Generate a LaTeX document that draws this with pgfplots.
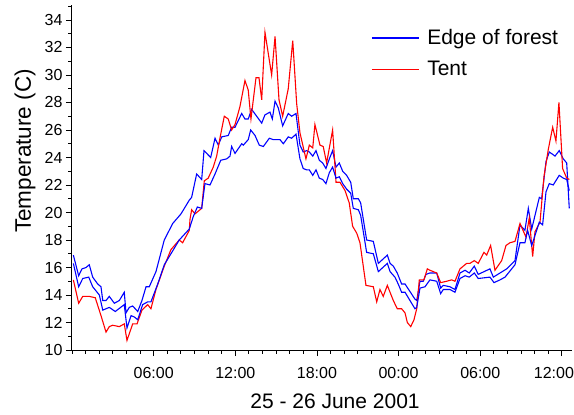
\documentclass[border=0pt]{standalone}
\usepackage{fontspec}
\setmainfont{Liberation Sans}
\usepackage{pgfplots}
\pgfplotsset{compat=1.18}

% hours after midnight, 25 June 2001
\pgfplotstableread{
h T
0.10 16.9
0.49 15.4
0.73 15.9
1.03 16.0
1.27 16.2
1.52 15.3
1.89 14.8
2.13 14.6
2.26 13.6
2.50 13.6
2.74 13.9
3.11 13.4
3.48 13.6
3.84 14.2
3.97 12.7
4.21 13.1
4.46 13.2
4.83 12.8
5.14 13.6
5.44 14.6
5.68 14.6
6.17 15.7
6.78 18.0
7.40 19.2
8.01 19.9
8.62 20.9
8.79 21.1
9.16 22.8
9.53 22.4
9.70 24.5
10.19 24.0
10.51 25.4
10.75 24.9
11.00 25.5
11.48 25.6
11.73 26.2
11.98 26.2
12.47 27.2
12.71 26.8
12.95 26.8
13.20 27.5
13.57 27.0
13.94 26.5
14.18 27.1
14.55 27.3
14.72 26.8
14.92 28.1
15.16 27.6
15.48 26.3
15.89 27.2
16.14 27.0
16.46 27.2
16.75 24.9
16.99 24.4
17.24 24.5
17.44 24.4
17.69 24.1
17.93 24.5
18.17 23.8
18.42 23.6
18.66 23.2
18.91 23.9
19.15 24.5
19.40 23.3
19.64 23.6
19.89 23.0
20.18 22.7
20.48 22.2
20.67 21.0
21.04 21.0
21.21 20.7
21.65 18.0
22.14 17.9
22.51 16.3
23.17 16.9
23.37 16.3
23.61 16.1
23.90 15.6
24.22 14.8
24.47 14.8
25.20 13.7
25.33 13.6
25.57 15.0
25.81 15.0
26.01 15.5
26.30 15.6
26.80 15.6
27.09 14.5
27.28 14.7
27.77 14.6
28.14 14.4
28.51 15.6
28.88 15.8
29.19 15.6
29.56 16.1
29.85 15.5
30.71 15.9
30.96 15.3
31.45 15.6
31.94 15.9
32.55 16.5
32.92 19.1
33.28 18.7
33.53 20.3
33.78 18.8
34.34 21.1
34.51 21.0
34.83 23.7
35.07 24.4
35.36 24.2
35.49 24.1
35.80 24.5
36.10 23.9
36.35 23.6
36.54 20.3
}\edgeA

\pgfplotstableread{
h T
0.10 16.3
0.49 14.6
0.79 15.2
1.23 15.3
1.52 14.6
2.01 14.0
2.26 12.9
2.74 13.1
3.18 12.8
3.84 13.3
4.04 11.6
4.34 12.5
4.58 12.4
4.83 12.2
5.19 13.3
5.56 13.5
5.80 13.5
6.30 14.8
6.78 16.2
7.15 16.8
7.88 18.0
8.62 18.8
8.91 19.7
9.21 20.4
9.53 20.3
9.77 22.1
10.14 22.0
10.51 22.8
10.93 23.8
11.37 23.9
11.61 24.1
11.73 24.8
11.98 24.3
12.47 25.0
12.59 24.9
12.95 25.3
13.13 26.0
13.45 25.6
13.76 24.9
14.06 24.8
14.50 25.4
14.79 25.3
15.28 25.3
15.53 25.0
15.89 25.5
16.14 25.4
16.46 25.7
16.75 23.9
16.99 23.2
17.24 23.1
17.44 23.1
17.69 22.7
17.93 23.1
18.17 22.5
18.42 22.4
18.66 22.1
18.91 22.9
19.15 23.3
19.40 22.5
19.64 22.6
19.89 22.1
20.18 21.7
20.48 21.4
20.67 20.3
21.04 20.2
21.21 19.8
21.65 17.1
22.14 17.0
22.51 15.7
23.17 16.3
23.37 15.7
23.73 15.3
23.97 14.8
24.22 14.2
24.47 14.2
25.20 13.0
25.33 13.1
25.57 14.5
25.94 14.6
26.30 15.1
26.80 15.0
27.09 14.1
27.28 14.4
27.77 14.4
28.14 14.2
28.51 15.2
28.88 15.4
29.19 15.3
29.56 15.6
29.85 15.2
30.71 15.3
31.01 14.9
31.45 15.1
31.82 15.3
32.55 16.2
32.92 17.8
33.28 17.8
33.48 18.7
33.78 17.6
34.34 19.3
34.58 19.1
34.83 21.5
35.07 22.1
35.36 22.0
35.80 22.7
36.10 22.5
36.35 22.4
36.54 21.6
}\edgeB

\pgfplotstableread{
h T
0.10 15.1
0.49 13.4
0.79 13.9
1.27 13.9
1.71 13.8
2.13 12.5
2.50 11.3
2.74 11.7
2.99 11.8
3.48 11.7
3.84 11.9
4.04 10.7
4.46 11.9
4.78 11.9
5.14 12.9
5.56 13.3
5.80 13.0
6.17 14.4
6.78 16.1
7.27 17.3
7.88 18.0
8.13 17.8
8.62 18.7
8.67 19.5
8.79 20.2
9.04 19.9
9.53 20.3
9.72 22.3
10.01 22.5
10.38 23.3
10.63 24.1
10.87 25.4
11.19 27.0
11.48 26.8
11.73 26.0
11.98 26.4
12.34 27.7
12.71 29.6
12.95 28.9
13.15 26.8
13.52 29.8
13.74 29.8
13.94 28.2
14.18 33.1
14.67 30.0
14.92 32.8
15.21 28.2
15.48 27.0
15.89 29.0
16.22 32.5
16.51 27.9
16.75 25.8
17.19 23.9
17.44 24.9
17.69 24.7
17.85 26.4
18.22 24.9
18.46 24.8
18.71 23.6
19.15 26.0
19.40 22.2
19.69 22.2
20.06 21.6
20.37 20.7
20.62 19.0
20.92 18.5
21.16 17.8
21.60 14.7
22.14 14.6
22.39 13.5
22.63 14.4
22.87 13.9
23.17 14.7
23.61 13.6
23.90 13.0
24.22 13.0
24.47 12.7
24.64 12.0
24.89 11.7
25.13 12.2
25.33 13.0
25.52 15.1
25.86 15.1
26.11 15.9
26.30 15.8
26.80 15.6
27.09 14.9
27.53 15.0
27.90 15.1
28.14 15.0
28.51 15.9
29.00 16.3
29.24 16.3
29.56 16.5
29.85 16.3
30.27 17.1
30.47 16.9
30.76 17.6
31.08 15.8
31.57 16.5
31.89 17.6
32.18 17.8
32.55 17.9
32.92 19.2
33.36 18.2
33.60 19.6
33.85 16.8
34.02 18.6
34.39 19.3
34.68 22.6
35.00 24.6
35.32 26.2
35.56 25.2
35.78 28.0
36.05 23.2
36.35 22.5
36.54 22.4
}\tent

\begin{document}
\begin{tikzpicture}
\begin{axis}[
  scale only axis,
  width=500bp, height=345bp,
  xmin=0, xmax=36.74, ymin=10, ymax=35.09,
  axis x line=bottom, axis y line=left,
  axis line style={-, line width=1bp},
  tick align=outside,
  major tick length=6bp, minor tick length=3.5bp,
  every tick/.style={black, line width=0.9bp},
  xtick={6,12,18,24,30,36},
  xticklabels={06:00,12:00,18:00,00:00,06:00,\hspace*{-16bp}12:00},
  minor xtick={0,1,...,36},
  ytick={10,12,...,34},
  minor ytick={11,13,...,35},
  /pgf/number format/assume math mode=true,
  ticklabel style={font=\fontsize{16bp}{18bp}\selectfont},
  xticklabel style={yshift=-8bp},
  xlabel={25 - 26 June 2001},
  ylabel={Temperature (C)},
  label style={font=\fontsize{21bp}{24bp}\selectfont},
  ylabel style={font=\fontsize{22.5bp}{26bp}\selectfont},
  xlabel style={at={(axis description cs:0.526,-0.148)}, anchor=center},
  ylabel style={at={(axis description cs:-0.094,0.577)}, anchor=center},
  legend style={draw=none, fill=none, inner sep=0pt,
    at={(axis description cs:0.598,0.935)}, anchor=north west,
    font=\fontsize{21bp}{23bp}\selectfont, row sep=11bp},
  legend cell align=left,
  legend image code/.code={\draw[#1] (0bp,0bp) -- (47bp,0bp);},
  every axis plot/.append style={line width=1.1bp},
]
\addplot[blue] table[x=h, y=T] {\edgeA};
\addlegendentry{\hspace*{6bp}Edge of forest}
\addplot[red] table[x=h, y=T] {\tent};
\addlegendentry{\hspace*{6bp}Tent}
\addplot[blue, forget plot] table[x=h, y=T] {\edgeB};
\end{axis}
\pgfresetboundingbox
\path (current axis.south west) ++(-72bp,-65bp) rectangle ++(574bp,415bp);
\end{tikzpicture}
\end{document}
